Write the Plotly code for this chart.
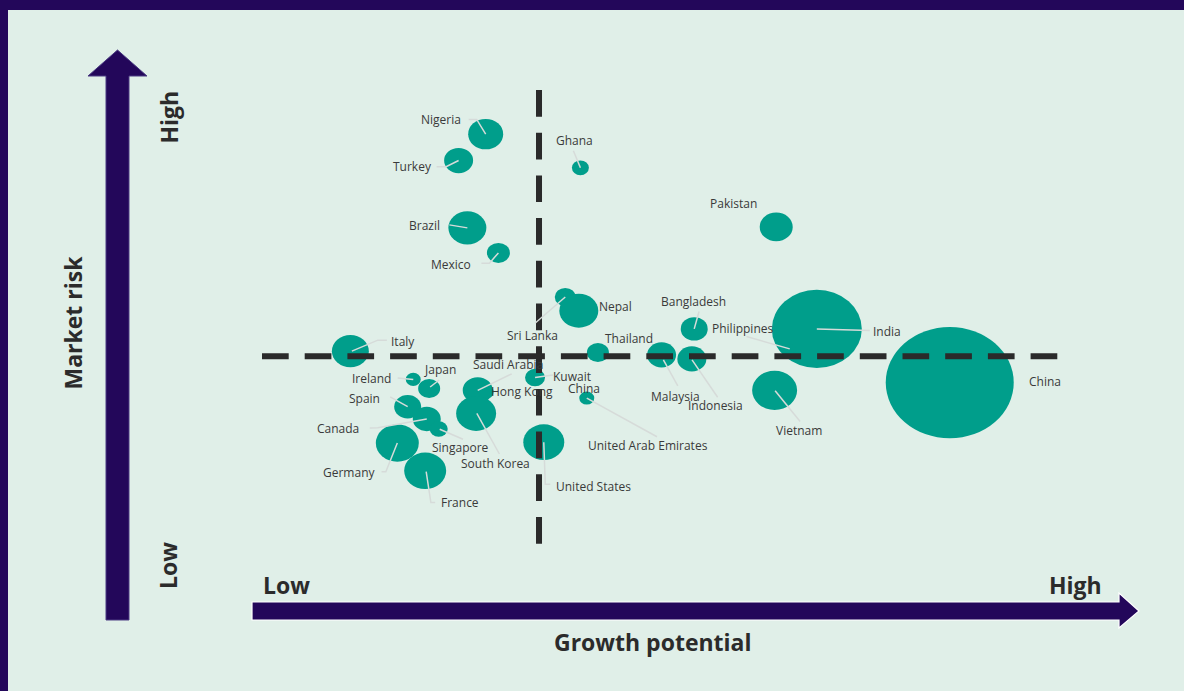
import plotly.graph_objects as go

# ---------------------------------------------------------------- data
countries = [
    "Nigeria", "Turkey", "Ghana", "Brazil", "Mexico", "Pakistan",
    "Sri Lanka", "Nepal", "Bangladesh", "India", "Philippines", "Italy",
    "Thailand", "Malaysia", "Indonesia", "Kuwait", "Ireland", "China",
    "Japan", "Saudi Arabia", "Hong Kong", "Vietnam", "United Arab Emirates",
    "Spain", "South Korea", "Canada", "Singapore", "United States",
    "Germany", "France",
]
growth = [
    28.1, 24.7, 40.0, 25.8, 29.7, 64.6,
    38.1, 39.8, 54.3, 69.7, 66.3, 11.1,
    42.2, 50.2, 54.0, 34.3, 19.0, 86.4,
    21.0, 27.1, 28.1, 64.4, 40.8,
    18.3, 26.9, 20.7, 22.2, 35.4,
    17.0, 20.5,
]
risk = [
    90.3, 84.5, 82.9, 69.7, 64.2, 69.9,
    54.5, 51.5, 47.5, 47.5, 43.1, 42.6,
    42.3, 41.8, 40.9, 36.8, 36.4, 35.7,
    34.4, 34.0, 33.6, 34.0, 32.3,
    30.4, 28.9, 27.7, 25.5, 22.6,
    22.4, 16.3,
]
market_size = [
    35, 29, 17, 38, 23, 33,
    21, 39, 27, 90, 12, 37,
    22, 29, 29, 20, 15, 128,
    22, 30, 16, 45, 15,
    27, 40, 28, 18, 41,
    43, 42,
]

# quadrant dividers on the score scales
mid_growth = 34.8
mid_risk = 41.5

# a stray caption printed in the chart without a bubble of its own
extra_labels = [("China", 40.5, 34.3)]

axis_words = {"x_title": "Growth potential", "y_title": "Market risk",
              "low": "Low", "high": "High"}

# ---------------------------------------------------------------- layout constants
W, H = 1184, 691
GX0, GX1 = 262, 1058      # pixel columns of growth score 0 and 100
RY0, RY1 = 545, 90        # pixel rows of risk score 0 and 100
SX = (GX1 - GX0) / 100.0
SY = (RY0 - RY1) / 100.0
ASPECT = 0.87             # bubbles are drawn slightly flattened

PURPLE = "#23075a"
BG = "#e0efe8"
TEAL = "#009e8b"
DASH = "#2a2a2a"
LEADER = "#d6dbd9"
TEXT = "#3a3a3a"
BOLD_TEXT = "#2b2b2b"
FONT = "Open Sans"

# label offsets (px from bubble centre) and leader-line polylines (px offsets)
placement = {
    "Nigeria": ((-44.5, -14.7), [(-17, -14.7), (-9, -14.7), (0, 0)]),
    "Turkey": ((-46, 6.2), [(-22, 6.2), (-12.5, 6.2), (0, 0)]),
    "Ghana": ((-5.5, -27.3), [(-7, -17), (0, 0)]),
    "Brazil": ((-43, -2.3), [(-18, -3), (0, 0)]),
    "Mexico": ((-47.5, 11.3), [(-17, 10.3), (-9, 10.3), (0, 0)]),
    "Pakistan": ((-43, -23.7), []),
    "Sri Lanka": ((-33, 38), [(0, 0), (-30, 26)]),
    "Nepal": ((37, -4.5), []),
    "Bangladesh": ((-0.5, -27.3), [(0, 0), (4.8, -17.3)]),
    "India": ((70.5, 2.7), [(0, 0), (53, 1.7)]),
    "Philippines": ((-47, -20.7), [(-43.3, -12.3), (0, 0)]),
    "Italy": ((53, -10), [(1.5, 0), (27.5, -11), (36.5, -11)]),
    "Thailand": ((31.5, -14.5), []),
    "Malaysia": ((14, 41.7), [(1.8, 5), (16.2, 31)]),
    "Indonesia": ((23.5, 46.7), [(0.2, 1), (25.8, 38.3)]),
    "Kuwait": ((36.5, -1.5), [(0, 0), (18, -2.5)]),
    "Ireland": ((-42, -0.8), [(-15.5, -1.5), (0, 0)]),
    "China": ((95, -1.5), []),
    "Japan": ((11, -18.5), [(1, -1.5), (10, -8.5)]),
    "Saudi Arabia": ((30.5, -25.5), [(0, 0), (34, -16.5)]),
    "Hong Kong": ((36, -1), []),
    "Vietnam": ((24, 40.5), [(0.5, 0.5), (25.5, 31.2)]),
    "United Arab Emirates": ((61.5, 47), [(0, 0), (70.2, 38.7)]),
    "Spain": ((-43, -8.5), [(-17.5, -9.8), (0, 0)]),
    "South Korea": ((19, 49.5), [(0.7, -0.2), (23.3, 40.5)]),
    "Canada": ((-89, 10), [(-57, 9), (-49, 8.7), (0, 0)]),
    "Singapore": ((22, 19), [(1, 0.3), (24.3, 10.3)]),
    "United States": ((50, 44), [(0, 0), (1.5, 42), (6.5, 42)]),
    "Germany": ((-48, 29), [(0, 0), (-11.5, 28.7), (-15.8, 28.7)]),
    "France": ((35, 32), [(1, 0.7), (5.7, 31.7), (10, 31.7)]),
}


def px(x):
    return x / W


def py(y):
    return 1 - y / H


def paper_path(points):
    return "M " + " L ".join(f"{px(x):.5f},{py(y):.5f}" for x, y in points) + " Z"


shapes = []
annotations = []

# frame: purple border strips along the top and left edges
shapes.append(dict(type="rect", xref="paper", yref="paper", x0=0, x1=1, y0=0, y1=1,
                   fillcolor=PURPLE, line_width=0, layer="below"))
shapes.append(dict(type="rect", xref="paper", yref="paper", x0=px(8), x1=1, y0=0, y1=py(10),
                   fillcolor=BG, line_width=0, layer="below"))

# bubbles
for name, g, r, s in zip(countries, growth, risk, market_size):
    hw = s / 2.0 / SX
    hh = s / 2.0 * ASPECT / SY
    shapes.append(dict(type="circle", xref="x", yref="y",
                       x0=g - hw, x1=g + hw, y0=r - hh, y1=r + hh,
                       fillcolor=TEAL, line_width=0, layer="above"))

# quadrant dividers
shapes.append(dict(type="line", xref="x", yref="y", x0=mid_growth, x1=mid_growth, y0=100, y1=0,
                   line=dict(color=DASH, width=6, dash="26.7px,16px"), layer="above"))
shapes.append(dict(type="line", xref="x", yref="y", x0=0, x1=100, y0=mid_risk, y1=mid_risk,
                   line=dict(color=DASH, width=6, dash="26.7px,16px"), layer="above"))

# leader lines and labels
for name, g, r in zip(countries, growth, risk):
    (dx, dy), leader = placement[name]
    if leader:
        pts = [(g + ox / SX, r - oy / SY) for ox, oy in leader]
        path = "M " + " L ".join(f"{a:.4f},{b:.4f}" for a, b in pts)
        shapes.append(dict(type="path", xref="x", yref="y", path=path,
                           line=dict(color=LEADER, width=1.5), layer="above"))
    annotations.append(dict(x=g + dx / SX, y=r - dy / SY, xref="x", yref="y",
                            text=name, showarrow=False, xanchor="center", yanchor="middle",
                            font=dict(family=FONT, size=12, color=TEXT)))

for text, g, r in extra_labels:
    annotations.append(dict(x=g, y=r, xref="x", yref="y", text=text, showarrow=False,
                            xanchor="center", yanchor="middle",
                            font=dict(family=FONT, size=12, color=TEXT)))

# axis arrows
shapes.append(dict(type="path", xref="paper", yref="paper",
                   path=paper_path([(106, 620), (106, 76), (88, 76), (117.5, 50),
                                    (147, 76), (129, 76), (129, 620)]),
                   fillcolor=PURPLE, line=dict(color="#4a3a82", width=1), layer="above"))
shapes.append(dict(type="path", xref="paper", yref="paper",
                   path=paper_path([(252, 602), (1119, 602), (1119, 593), (1139, 611),
                                    (1119, 628), (1119, 620), (252, 620)]),
                   fillcolor=PURPLE, line=dict(color="#ffffff", width=1.2), layer="above"))

bold = dict(family=FONT, size=23, color=BOLD_TEXT)
for text, x, y, angle in [
    ("<b>" + axis_words["high"] + "</b>", 168, 117.5, -90),
    ("<b>" + axis_words["low"] + "</b>", 168, 566, -90),
    ("<b>" + axis_words["y_title"] + "</b>", 72.5, 323, -90),
    ("<b>" + axis_words["low"] + "</b>", 286.5, 585, 0),
    ("<b>" + axis_words["high"] + "</b>", 1075, 585, 0),
    ("<b>" + axis_words["x_title"] + "</b>", 652.5, 642, 0),
]:
    annotations.append(dict(x=px(x), y=py(y), xref="paper", yref="paper", text=text,
                            showarrow=False, textangle=angle, xanchor="center",
                            yanchor="middle", font=bold))

# invisible points so each bubble keeps a hover tooltip
fig = go.Figure(go.Scatter(
    x=growth, y=risk, mode="markers", text=countries,
    marker=dict(size=10, opacity=0), hovertemplate="%{text}<extra></extra>",
))

fig.update_layout(
    width=W, height=H,
    margin=dict(l=0, r=0, t=0, b=0),
    paper_bgcolor=BG, plot_bgcolor="rgba(0,0,0,0)",
    showlegend=False,
    xaxis=dict(range=[-GX0 / SX, (W - GX0) / SX], domain=[0, 1], visible=False, fixedrange=True),
    yaxis=dict(range=[(RY0 - H) / SY, RY0 / SY], domain=[0, 1], visible=False, fixedrange=True),
    shapes=shapes,
    annotations=annotations,
)

fig.write_html("out.html")
